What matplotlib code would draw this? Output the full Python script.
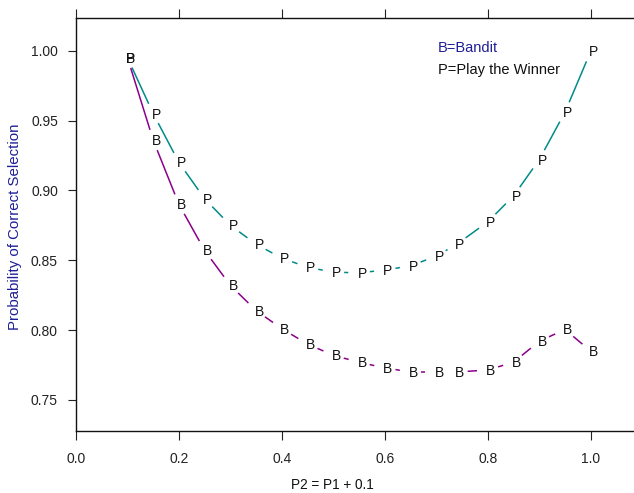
import numpy as np
import matplotlib
matplotlib.use("Agg")
import matplotlib.pyplot as plt
from matplotlib.transforms import offset_copy

plt.rcParams['font.family'] = ['Liberation Sans', 'DejaVu Sans']

# data
x_vals = [0.10, 0.15, 0.20, 0.25, 0.30, 0.35, 0.40, 0.45, 0.50, 0.55,
          0.60, 0.65, 0.70, 0.74, 0.80, 0.85, 0.90, 0.95, 1.00]
bandit = [0.995, 0.936, 0.890, 0.857, 0.832, 0.814, 0.801, 0.790, 0.782, 0.777,
          0.773, 0.770, 0.770, 0.770, 0.7715, 0.777, 0.792, 0.8005, 0.785]
ptw = [0.995, 0.955, 0.920, 0.894, 0.875, 0.8615, 0.8515, 0.845, 0.8415, 0.841,
       0.843, 0.846, 0.853, 0.8615, 0.8775, 0.896, 0.922, 0.956, 0.9995]
x_ticks = [0.0, 0.2, 0.4, 0.6, 0.8, 1.0]
y_ticks = [0.75, 0.80, 0.85, 0.90, 0.95, 1.00]

W, H = 634, 493
fig = plt.figure(figsize=(W / 100, H / 100), dpi=100)
ax_left, ax_right, ax_top, ax_bot = 76, 660, 18, 431
ax = fig.add_axes([ax_left / W, (H - ax_bot) / H, (ax_right - ax_left) / W, (ax_bot - ax_top) / H])
xscale = 514.7
ax.set_xlim(0, (ax_right - ax_left) / xscale)
ax.set_ylim(0.75 - 31 / 1397, 1.0 + 32.7 / 1397)

ax.set_xticks(x_ticks)
ax.set_xticklabels([f"{v:.1f}" for v in x_ticks])
ax.set_yticks(y_ticks)
ax.set_yticklabels([f"{v:.2f}" for v in y_ticks])
ax.tick_params(axis='x', which='both', direction='out', length=6.2, width=0.8,
               top=True, labeltop=False, labelsize=10, pad=9, colors='#222222')
ax.tick_params(axis='y', direction='out', length=6.0, width=0.8, labelsize=10,
               pad=7, colors='#222222')
ax.tick_params(axis='both', labelcolor='#222222')
for s in ['left', 'top', 'bottom', 'right']:
    ax.spines[s].set_linewidth(1.0)
    ax.spines[s].set_color('#111111')

fig.canvas.draw()


def draw_series(xs, ys, letter, color, gap_px=10.8, zorder=2):
    pts = ax.transData.transform(np.column_stack([xs, ys]))
    inv = ax.transData.inverted()
    for i in range(1, len(pts)):
        p0, p1 = pts[i - 1], pts[i]
        d = p1 - p0
        dist = np.hypot(*d)
        if dist > 2 * gap_px:
            f = gap_px / dist
            a = inv.transform(p0 + f * d)
            b = inv.transform(p1 - f * d)
            ax.plot([a[0], b[0]], [a[1], b[1]], color=color, lw=1.1,
                    solid_capstyle='butt', zorder=zorder)
    tr = offset_copy(ax.transData, fig=fig, x=3.0, y=-1.0, units='dots')
    for xv, yv in zip(xs, ys):
        ax.text(xv, yv, letter, transform=tr, ha='center', va='center',
                fontsize=10, color='#111111', zorder=zorder + 1)


draw_series(x_vals, ptw, 'P', '#008B8B')
draw_series(x_vals, bandit, 'B', '#8B008B', zorder=4)

fig.text(437.5 / W, 1 - 48 / H, 'B=Bandit', fontsize=10.5, color='#1E1E96',
         ha='left', va='center')
fig.text(437.5 / W, 1 - 70 / H, 'P=Play the Winner', fontsize=10.5, color='#111111',
         ha='left', va='center')

fig.text(332.7 / W, 1 - 485 / H, 'P2 = P1 + 0.1', fontsize=9.8, color='#111111',
         ha='center', va='center')
fig.text(15.5 / W, 1 - 227 / H, 'Probability of Correct Selection', fontsize=10.8,
         color='#1E1E96', ha='center', va='center', rotation=90)

fig.savefig('out.png', dpi=100)
